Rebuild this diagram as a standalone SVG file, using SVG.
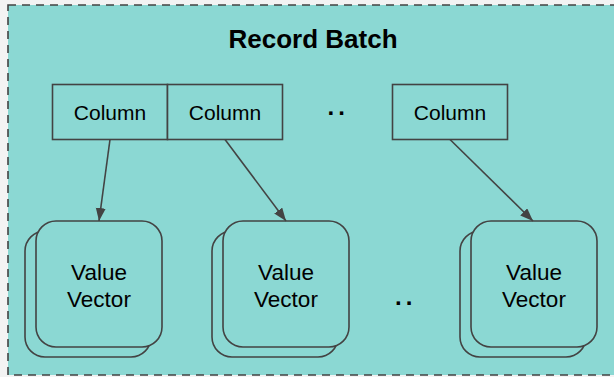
<svg xmlns="http://www.w3.org/2000/svg" width="614" height="377" viewBox="0 0 614 377">
  <style>
    .frame { fill: #8bd8d3; stroke: #434343; stroke-width: 1.6; stroke-dasharray: 8 6; }
    .col { fill: #8bd8d3; stroke: #434343; stroke-width: 1.6; }
    .vec { fill: #8bd8d3; stroke: #434343; stroke-width: 1.6; }
    .edge { fill: none; stroke: #434343; stroke-width: 1.6; }
    .title { font-family: "Liberation Sans", Arial, sans-serif; font-weight: bold; font-size: 26px; fill: #000; text-anchor: middle; }
    .label { font-family: "Liberation Sans", Arial, sans-serif; font-size: 21px; fill: #000; text-anchor: middle; }
    .vlabel { font-family: "Liberation Sans", Arial, sans-serif; font-size: 22.5px; fill: #000; text-anchor: middle; }
    .dots { font-family: "Liberation Sans", Arial, sans-serif; font-weight: bold; font-size: 24px; fill: #000; letter-spacing: 4px; }
  </style>
  <defs>
    <marker id="arrow" markerUnits="userSpaceOnUse" markerWidth="14" markerHeight="12" refX="13" refY="5" orient="auto">
      <path d="M0,0 L13,5 L0,10 Z" fill="#434343"/>
    </marker>
  </defs>

  <rect x="0" y="0" width="614" height="377" fill="#f3f3f3"/>

  <g id="record-batch">
    <rect class="frame" x="8" y="5" width="620" height="370"/>
    <text class="title" x="313" y="48">Record Batch</text>
  </g>

  <g id="column-1">
    <rect class="col" x="52.5" y="84.5" width="115" height="55"/>
    <text class="label" x="110" y="119.5">Column</text>
  </g>
  <g id="column-2">
    <rect class="col" x="167.5" y="84.5" width="115" height="55"/>
    <text class="label" x="225" y="119.5">Column</text>
  </g>
  <g id="column-more">
    <text class="dots" x="327.6" y="114.5">..</text>
  </g>
  <g id="column-n">
    <rect class="col" x="392.5" y="84.5" width="115" height="55"/>
    <text class="label" x="450" y="119.5">Column</text>
  </g>

  <g id="vector-1">
    <rect class="vec" x="25" y="231" width="126" height="126" rx="20"/>
    <rect class="vec" x="36" y="221" width="126" height="126" rx="20"/>
    <text class="vlabel" x="99" y="279.5">Value</text>
    <text class="vlabel" x="99" y="307">Vector</text>
  </g>
  <g id="vector-2">
    <rect class="vec" x="212" y="231" width="126" height="126" rx="20"/>
    <rect class="vec" x="223" y="221" width="126" height="126" rx="20"/>
    <text class="vlabel" x="286" y="279.5">Value</text>
    <text class="vlabel" x="286" y="307">Vector</text>
  </g>
  <g id="vector-more">
    <text class="dots" x="395" y="305">..</text>
  </g>
  <g id="vector-n">
    <rect class="vec" x="460" y="231" width="126" height="126" rx="20"/>
    <rect class="vec" x="471" y="221" width="126" height="126" rx="20"/>
    <text class="vlabel" x="534" y="279.5">Value</text>
    <text class="vlabel" x="534" y="307">Vector</text>
  </g>

  <g id="connectors">
    <line class="edge" x1="110" y1="139.5" x2="99" y2="221" marker-end="url(#arrow)"/>
    <line class="edge" x1="225" y1="139.5" x2="286" y2="221" marker-end="url(#arrow)"/>
    <line class="edge" x1="450" y1="139.5" x2="533" y2="221" marker-end="url(#arrow)"/>
  </g>
</svg>
